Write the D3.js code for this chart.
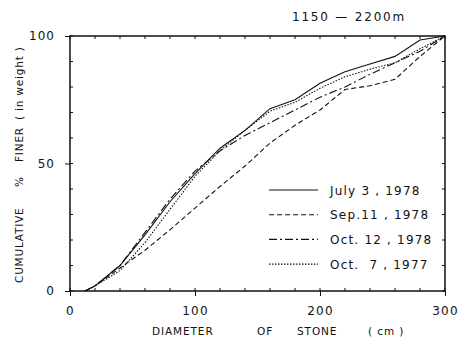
<!DOCTYPE html>
<html>
<head>
<meta charset="utf-8">
<script src="https://cdn.jsdelivr.net/npm/d3@7"></script>
<style>
  body { margin: 0; background: #fff; }
  text { font-family: "DejaVu Sans", sans-serif; fill: #111; }
</style>
</head>
<body>
<svg id="chart" width="459" height="341"></svg>
<script>
// diameter of stone (cm) and cumulative % finer for each survey
const diameters = [12, 20, 40, 60, 80, 100, 120, 140, 160, 180, 200, 220, 240, 260, 280, 300];
const july1978 = [0, 2, 10, 22, 35, 46, 56, 63, 71.5, 75, 81.5, 86, 89, 92, 98.4, 100];
const sep1978  = [0, 2, 9, 16, 24, 32.5, 41, 49, 58, 65, 71, 79, 80.5, 83, 92, 100];
const oct1978  = [0, 2, 10, 23, 36, 47, 55, 61, 66, 71, 76, 80, 85, 89.5, 94, 100];
const oct1977  = [0, 2, 8, 19, 32, 45, 55, 63, 70.5, 74, 79.5, 84, 87, 89.5, 95, 100];

const seriesNames = ["July 3 , 1978", "Sep.11 , 1978", "Oct. 12 , 1978", "Oct.  7 , 1977"];
const seriesValues = [july1978, sep1978, oct1978, oct1977];
const dashes = [null, "5,3", "8,3,2,3", "1.5,1.5"];

const xTicks = [0, 100, 200, 300];
const yTicks = [0, 50, 100];

const xTitleWords = [["DIAMETER", 152], ["OF", 257], ["STONE", 297], ["( cm )", 368]];
const yTitleWords = [["CUMULATIVE", 283], ["%", 187], ["FINER", 162], ["( in weight )", 120]];

const svg = d3.select("#chart");
const plotLeft = 70, plotRight = 445, plotTop = 36, plotBottom = 291;

const x = d3.scaleLinear().domain([0, 300]).range([plotLeft, plotRight]);
const y = d3.scaleLinear().domain([0, 100]).range([plotBottom, plotTop]);

// frame
svg.append("rect")
    .attr("x", plotLeft).attr("y", plotTop)
    .attr("width", plotRight - plotLeft).attr("height", plotBottom - plotTop)
    .attr("fill", "none").attr("stroke", "#111").attr("stroke-width", 1.5);

// minor ticks, inward
const xMinor = d3.range(0, 301, 20);
const yMinor = d3.range(0, 101, 10);

svg.append("g").selectAll("line")
    .data(xMinor)
    .enter().append("line")
      .attr("x1", d => x(d)).attr("x2", d => x(d))
      .attr("y1", plotBottom).attr("y2", plotBottom - 3)
      .attr("stroke", "#111");

svg.append("g").selectAll("line")
    .data(xMinor)
    .enter().append("line")
      .attr("x1", d => x(d)).attr("x2", d => x(d))
      .attr("y1", plotTop).attr("y2", plotTop + 3)
      .attr("stroke", "#111");

svg.append("g").selectAll("line")
    .data(yMinor)
    .enter().append("line")
      .attr("x1", plotLeft).attr("x2", plotLeft + 3)
      .attr("y1", d => y(d)).attr("y2", d => y(d))
      .attr("stroke", "#111");

svg.append("g").selectAll("line")
    .data(yMinor)
    .enter().append("line")
      .attr("x1", plotRight).attr("x2", plotRight - 3)
      .attr("y1", d => y(d)).attr("y2", d => y(d))
      .attr("stroke", "#111");

// major ticks, outward, with labels
const xAxis = d3.axisBottom(x).tickValues(xTicks).tickSize(5).tickPadding(10);
const gx = svg.append("g")
    .attr("transform", `translate(0,${plotBottom})`)
    .call(xAxis);
gx.select(".domain").remove();
gx.selectAll("line").attr("stroke", "#111");
gx.selectAll("text").style("font-size", "12px").style("letter-spacing", "1.2px");

const yAxis = d3.axisLeft(y).tickValues(yTicks).tickSize(5).tickPadding(10);
const gy = svg.append("g")
    .attr("transform", `translate(${plotLeft},0)`)
    .call(yAxis);
gy.select(".domain").remove();
gy.selectAll("line").attr("stroke", "#111");
gy.selectAll("text").style("font-size", "12px").style("letter-spacing", "1px");

// curves
const line = d3.line()
    .x((d, i) => x(diameters[i]))
    .y(d => y(d));

svg.append("g").selectAll("path")
    .data(seriesValues)
    .enter().append("path")
      .attr("d", d => line(d))
      .attr("fill", "none")
      .attr("stroke", "#111")
      .attr("stroke-width", 1.1)
      .attr("stroke-dasharray", (d, i) => dashes[i]);

// legend
const legend = svg.append("g").selectAll("g")
    .data(seriesNames)
    .enter().append("g")
      .attr("transform", (d, i) => `translate(269,${190 + i * 24.7})`);

legend.append("line")
    .attr("x1", 0).attr("x2", 49)
    .attr("stroke", "#111")
    .attr("stroke-width", 1.1)
    .attr("stroke-dasharray", (d, i) => dashes[i]);

legend.append("text")
    .attr("x", 61).attr("y", 4.5)
    .style("font-size", "12px")
    .style("letter-spacing", "1.2px")
    .attr("xml:space", "preserve")
    .text(d => d);

// titles
svg.append("text")
    .attr("x", 292).attr("y", 21)
    .style("font-size", "12px")
    .style("letter-spacing", "1.8px")
    .text("1150 — 2200m");

svg.append("text")
    .style("font-size", "10.5px")
    .style("letter-spacing", "0.9px")
    .selectAll("tspan")
    .data(xTitleWords)
    .enter().append("tspan")
      .attr("x", d => d[1]).attr("y", 335)
      .text(d => d[0]);

svg.append("text")
    .attr("transform", "translate(23,0) rotate(-90)")
    .style("font-size", "10.5px")
    .style("letter-spacing", "0.8px")
    .selectAll("tspan")
    .data(yTitleWords)
    .enter().append("tspan")
      .attr("x", d => -d[1]).attr("y", 0)
      .text(d => d[0]);
</script>
</body>
</html>
